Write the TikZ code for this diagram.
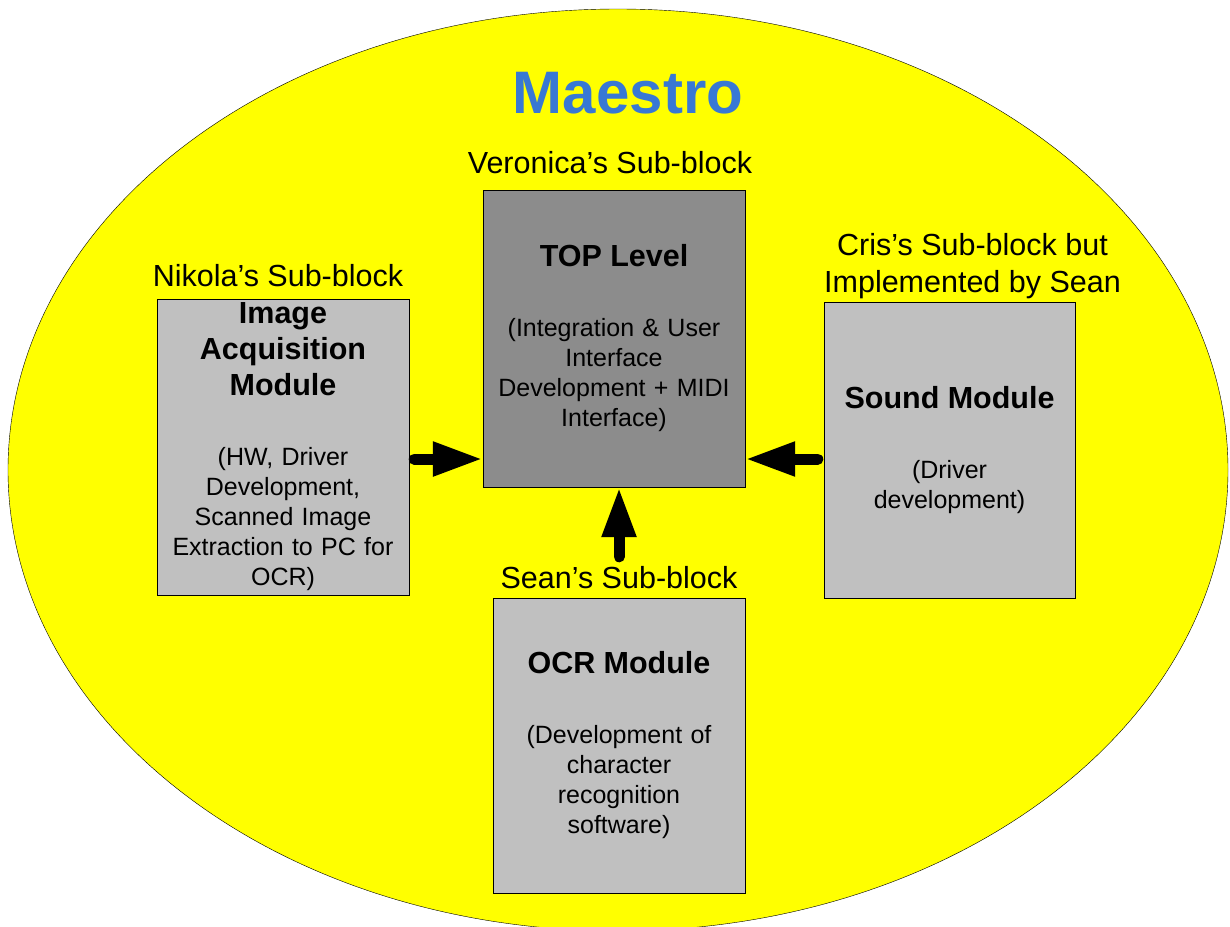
\documentclass[tikz,border=0pt]{standalone}
\usepackage{fontspec}
\setmainfont{Liberation Sans}
\usetikzlibrary{arrows.meta,positioning}

\definecolor{maestroblue}{RGB}{56,120,212}
\definecolor{fieldyellow}{RGB}{255,255,0}
\definecolor{topgray}{RGB}{140,140,140}
\definecolor{modgray}{RGB}{192,192,192}

% bold heading inside a module box
\newcommand{\modhead}[1]{{\fontsize{30.5}{36}\selectfont\bfseries #1\par}\vspace{40pt}}

\begin{document}
\begin{tikzpicture}[x=1pt,y=-1pt,
 module/.style={draw,fill=modgray,minimum width=252pt,minimum height=296pt,
   text width=240pt,align=center,inner sep=0pt,font=\fontsize{25}{30}\selectfont},
 owner/.style={font=\fontsize{30.5}{37}\selectfont,align=center,inner sep=0pt},
 feed/.style={line width=11pt,line cap=round,-{Triangle[length=50pt,width=32pt]}}]
 \clip (0,0) rectangle (1230,926);
 \draw[fill=fieldyellow] (618,470) ellipse [x radius=610, y radius=461];
 \node[anchor=base,text=maestroblue,font=\fontsize{60}{70}\selectfont\bfseries] (title) at (628,113) {Maestro};

 \node[module,fill=topgray,minimum width=262pt,minimum height=297pt] (top) at (614,338.5)
   {\modhead{TOP Level}(Integration \& User\\Interface\\Development + MIDI\\Interface)};
 \node[module] (img) at (283,447)
   {\modhead{Image\\Acquisition\\Module}(HW, Driver\\Development,\\Scanned Image\\Extraction to PC for\\OCR)};
 \node[module,minimum width=251pt] (snd) at (949.5,450)
   {\modhead{Sound Module}(Driver\\development)};
 \node[module,minimum height=295pt] (ocr) at (619,745.5)
   {\modhead{OCR Module}(Development of\\character\\recognition\\software)};

 \node[owner,above=16pt of top,xshift=-4pt] (vero) {Veronica’s Sub-block};
 \node[owner,above=12pt of img,xshift=-5pt] (niko) {Nikola’s Sub-block};
 \node[owner,above=3pt of snd,xshift=23pt] (cris) {Cris’s Sub-block but\\Implemented by Sean};
 \node[owner,above=9pt of ocr] (sean) {Sean’s Sub-block};

 \draw[feed] ([xshift=5pt,yshift=-12pt]img.east) -- ([yshift=-12pt]img.east -| top.west);
 \draw[feed] ([xshift=-6pt,yshift=-9pt]snd.west) -- ([yshift=-9pt]snd.west -| top.east);
 \draw[feed] ([yshift=41pt]ocr.north) -- (ocr.north |- top.south);
\end{tikzpicture}
\end{document}
